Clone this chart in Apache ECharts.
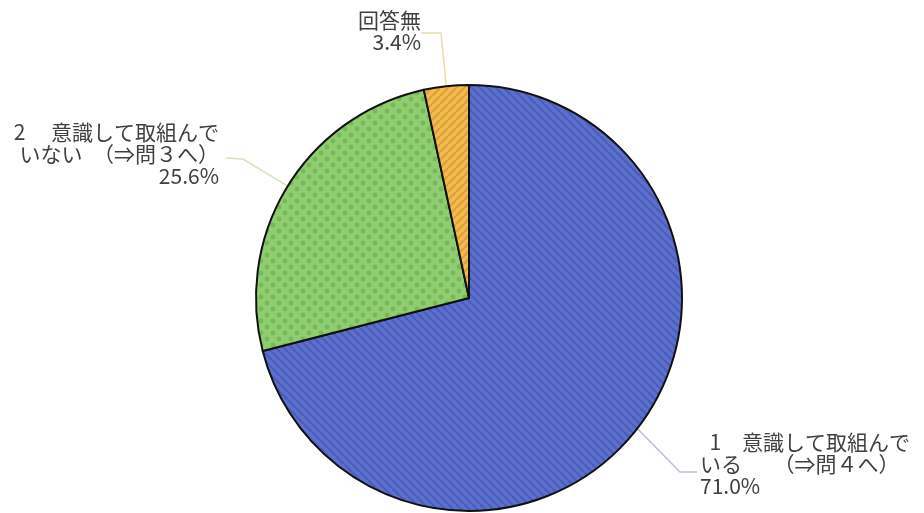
<!DOCTYPE html>
<html>
<head>
<meta charset="utf-8">
<script src="https://cdn.jsdelivr.net/npm/echarts@6/dist/echarts.min.js"></script>
<style>
  html, body { margin: 0; padding: 0; background: #ffffff; }
  #chart { width: 924px; height: 513px; }
</style>
</head>
<body>
<div id="chart"></div>
<script>
// Survey answers and their shares (%)
const categories = ['1　意識して取組んでいる（⇒問４へ）', '2　意識して取組んでいない（⇒問３へ）', '回答無'];
const labelTexts = [
  ['  1　意識して取組んで', 'いる　　（⇒問４へ）'],
  ['2　 意識して取組んで', 'いない　（⇒問３へ）'],
  ['回答無']
];
const shares = [71.0, 25.6, 3.4];

// Hatched / dotted fills
function stripePattern(base, line, dir) {
  const c = document.createElement('canvas');
  c.width = 8; c.height = 8;
  const g = c.getContext('2d');
  g.fillStyle = base; g.fillRect(0, 0, 8, 8);
  g.strokeStyle = line; g.lineWidth = 2.5;
  g.beginPath();
  for (let k = -8; k <= 8; k += 8) {
    if (dir === 'down') { g.moveTo(k, 0); g.lineTo(k + 8, 8); }
    else { g.moveTo(k, 8); g.lineTo(k + 8, 0); }
  }
  g.stroke();
  return { image: c, repeat: 'repeat' };
}
function dotPattern(base, dot) {
  const c = document.createElement('canvas');
  c.width = 12; c.height = 12;
  const g = c.getContext('2d');
  g.fillStyle = base; g.fillRect(0, 0, 12, 12);
  g.fillStyle = dot;
  [[3, 3], [9, 9]].forEach(function (p) {
    g.beginPath(); g.arc(p[0], p[1], 2.4, 0, Math.PI * 2); g.fill();
  });
  return { image: c, repeat: 'repeat' };
}

const fills = [
  stripePattern('#5d71cc', '#4c5ebd', 'down'),
  dotPattern('#8fcd70', '#77b95a'),
  stripePattern('#f2bc50', '#e0a236', 'up')
];
const guideColors = ['#bdbddb', '#dde3b8', '#eadcaa'];

// Where each label block sits and how its guide line bends
const labelPlacement = [
  { x: 700, y: 431, align: 'left',  elbow: [680, 472], end: [697, 472] },
  { x: 219, y: 121, align: 'right', elbow: [243, 159], end: [226, 158] },
  { x: 421, y: 9,   align: 'right', elbow: [441, 33],  end: [421, 33] }
];

const chart = echarts.init(document.getElementById('chart'), null, { renderer: 'canvas' });

const data = categories.map(function (name, i) {
  return {
    name: name,
    value: shares[i],
    itemStyle: { color: fills[i] },
    labelLine: { lineStyle: { color: guideColors[i] } }
  };
});

chart.setOption({
  animation: false,
  backgroundColor: '#ffffff',
  series: [{
    type: 'pie',
    center: [469, 298],
    radius: [0, 213],
    startAngle: 90,
    clockwise: true,
    avoidLabelOverlap: false,
    data: data,
    itemStyle: { borderColor: '#111111', borderWidth: 2 },
    label: {
      show: true,
      position: 'outside',
      fontFamily: '"Noto Sans CJK JP", "Noto Sans", sans-serif',
      fontSize: 21,
      lineHeight: 22,
      color: '#404040',
      formatter: function (p) {
        return labelTexts[p.dataIndex].concat([p.value.toFixed(1) + '%']).join('\n');
      }
    },
    labelLine: { show: true, length: 20, length2: 20, lineStyle: { width: 1.5 } },
    labelLayout: function (params) {
      const pl = labelPlacement[params.dataIndex];
      const pts = params.labelLinePoints;
      const out = { x: pl.x, y: pl.y, align: pl.align, verticalAlign: 'top' };
      if (pts && pts[0]) {
        out.labelLinePoints = [[pts[0][0], pts[0][1]], pl.elbow, pl.end];
      }
      return out;
    },
    emphasis: { disabled: true }
  }]
});
</script>
</body>
</html>
